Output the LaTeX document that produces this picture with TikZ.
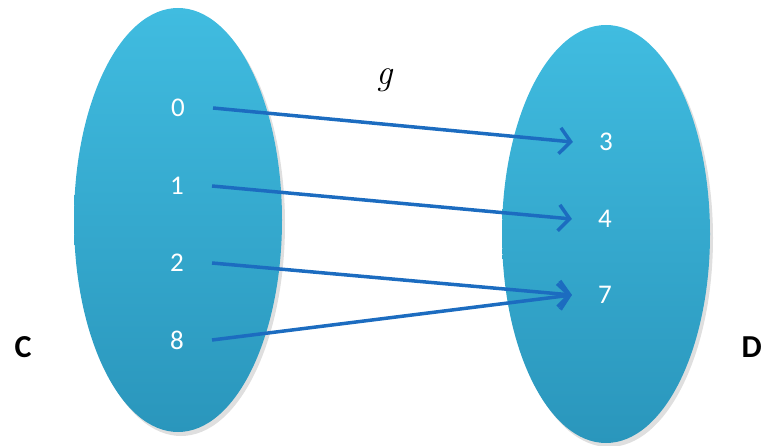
\documentclass[tikz,border=0pt]{standalone}
\usepackage{fontspec}
\setmainfont{Carlito}
\newfontfamily\gfont{Latin Modern Roman}
\usetikzlibrary{arrows.meta,shapes.geometric,shadows}
\definecolor{setTop}{HTML}{40BCE0}
\definecolor{setBot}{HTML}{2A96BC}
\definecolor{arrowBlue}{HTML}{1C6CC0}
\tikzset{
  setblob/.style={ellipse, draw=none, top color=setTop, bottom color=setBot,
    inner sep=0pt, minimum width=208pt, minimum height=424pt,
    drop shadow={shadow xshift=3pt, shadow yshift=-4pt, opacity=0.25}},
  elemL/.style={text=white, font=\fontsize{27}{30}\selectfont, inner sep=0pt, inner xsep=28pt},
  elemR/.style={text=white, font=\fontsize{27}{30}\selectfont, inner sep=0pt, inner xsep=26pt},
  setname/.style={text=black, font=\fontsize{32}{34}\selectfont\bfseries, inner sep=0pt},
  maparrow/.style={draw=arrowBlue, line width=3.5pt,
    -{Straight Barb[length=11pt, width=26pt, line width=3.5pt]}}
}
\begin{document}
\begin{tikzpicture}[x=1pt, y=-1pt]
\useasboundingbox (0,0) rectangle (763,446);
\node[setblob] (setC) at (178,220) {};
\node[setblob, minimum height=418pt] (setD) at (606,234) {};
\node[elemL] (c0) at (178,108) {0};
\node[elemL] (c1) at (177,186) {1};
\node[elemL] (c2) at (177,263) {2};
\node[elemL] (c8) at (177,340) {8};
\node[elemR] (d3) at (606,142) {3};
\node[elemR] (d4) at (605,219) {4};
\node[elemR] (d7) at (605,295) {7};
\node[setname] (lblC) at (23,347) {C};
\node[setname, anchor=east] (lblD) at (762,347) {D};
\node[font=\fontsize{36}{38}\selectfont\gfont\itshape] (lblg) at (385,80) {g};
\draw[maparrow] (c0.east) -- (d3.west);
\draw[maparrow] (c1.east) -- (d4.west);
\draw[maparrow] (c2.east) -- (d7.west);
\draw[maparrow] (c8.east) -- (d7.west);
\end{tikzpicture}
\end{document}
